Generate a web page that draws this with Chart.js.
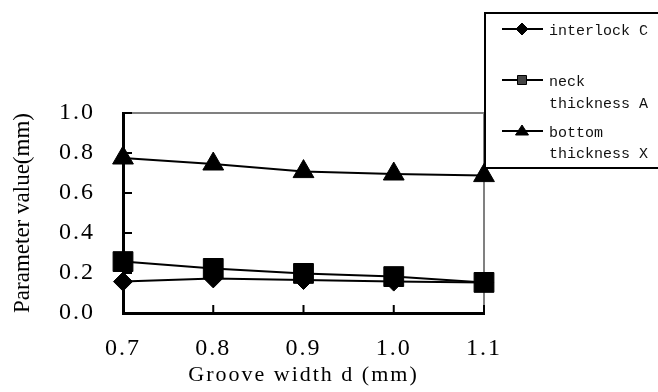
<!DOCTYPE html>
<html>
<head>
<meta charset="utf-8">
<script src="https://cdn.jsdelivr.net/npm/chart.js@4/dist/chart.umd.min.js"></script>
<style>
  html, body { margin: 0; padding: 0; background: #fff; }
  #wrap { width: 658px; height: 392px; position: relative; }
</style>
</head>
<body>
<div id="wrap"><canvas id="chart" width="658" height="392"></canvas></div>
<script>
// data
const grooveWidths = ['0.7', '0.8', '0.9', '1.0', '1.1'];
const interlockC = [0.157, 0.173, 0.165, 0.157, 0.152];
const neckThicknessA = [0.257, 0.223, 0.198, 0.182, 0.153];
const bottomThicknessX = [0.775, 0.745, 0.707, 0.695, 0.687];
const yTickValues = [0, 0.2, 0.4, 0.6, 0.8, 1.0];

const seriesNames = ['interlock C', 'neck thickness A', 'bottom thickness X'];
const legendLines = [['interlock C'], ['neck', 'thickness A'], ['bottom', 'thickness X']];
const pointStyles = ['rectRot', 'rect', 'triangle'];

// draws the inward tick marks, the grey frame and the boxed legend
const framePlugin = {
    id: 'frame',
    beforeDraw(chart) {
        chart.ctx.letterSpacing = '2px';
    },
    afterUpdate(chart) {
        const y = chart.scales.y;
        if (!y._noSpacing) {
            const orig = y.drawTitle.bind(y);
            y.drawTitle = function () {
                const c = this.ctx;
                c.save();
                c.letterSpacing = '0px';
                orig();
                c.restore();
            };
            y._noSpacing = true;
        }
    },
    beforeDatasetsDraw(chart) {
        const ctx = chart.ctx;
        ctx.letterSpacing = '0px';
        const { left, right, top, bottom } = chart.chartArea;
        const x = chart.scales.x, y = chart.scales.y;

        ctx.save();
        // grey top and right edges
        ctx.strokeStyle = '#808080';
        ctx.lineWidth = 2;
        ctx.beginPath();
        ctx.moveTo(left, top);
        ctx.lineTo(right, top);
        ctx.lineTo(right, bottom);
        ctx.stroke();

        // inward ticks
        ctx.strokeStyle = '#000';
        ctx.lineWidth = 2;
        ctx.beginPath();
        yTickValues.forEach(v => {
            if (v === 0) return;
            const py = y.getPixelForValue(v);
            ctx.moveTo(left, py);
            ctx.lineTo(left + 9, py);
        });
        grooveWidths.forEach((lab, i) => {
            if (i === 0) return;
            const px = x.getPixelForValue(i);
            ctx.moveTo(px, bottom);
            ctx.lineTo(px, bottom - 8);
        });
        ctx.stroke();
        ctx.restore();
    },
    afterDraw(chart) {
        const ctx = chart.ctx;
        const { right } = chart.chartArea;
        const w = chart.width;
        ctx.save();
        ctx.letterSpacing = '0px';

        // legend box, open on the right (runs off the canvas)
        ctx.fillStyle = '#fff';
        ctx.fillRect(right + 1, 13, w - right, 155);
        ctx.strokeStyle = '#000';
        ctx.lineWidth = 2;
        ctx.beginPath();
        ctx.moveTo(w + 2, 13);
        ctx.lineTo(right + 1, 13);
        ctx.lineTo(right + 1, 168);
        ctx.lineTo(w + 2, 168);
        ctx.stroke();

        const lineY = [29, 80, 131];
        const textY = [[35], [86, 108], [137, 158]];
        const x0 = right + 18, x1 = right + 59, xm = right + 38, xt = right + 65;
        legendLines.forEach((lines, i) => {
            ctx.strokeStyle = '#000';
            ctx.lineWidth = 2;
            ctx.beginPath();
            ctx.moveTo(x0, lineY[i]);
            ctx.lineTo(x1, lineY[i]);
            ctx.stroke();
            drawMarker(ctx, pointStyles[i], xm, lineY[i], i === 1 ? '#444' : '#000');
            ctx.fillStyle = '#111';
            ctx.font = '15px "Liberation Mono", monospace';
            ctx.textBaseline = 'alphabetic';
            ctx.textAlign = 'left';
            lines.forEach((t, j) => ctx.fillText(t, xt, textY[i][j]));
        });
        ctx.restore();
    }
};

function drawMarker(ctx, style, x, y, fill) {
    ctx.fillStyle = fill;
    ctx.strokeStyle = '#000';
    ctx.lineWidth = 1;
    ctx.beginPath();
    if (style === 'rectRot') {
        ctx.moveTo(x, y - 6); ctx.lineTo(x + 6, y); ctx.lineTo(x, y + 6); ctx.lineTo(x - 6, y);
    } else if (style === 'rect') {
        ctx.rect(x - 4.5, y - 4.5, 9, 9);
    } else {
        ctx.moveTo(x, y - 6); ctx.lineTo(x + 6.5, y + 4); ctx.lineTo(x - 6.5, y + 4);
    }
    ctx.closePath();
    ctx.fill();
    ctx.stroke();
}

const serif = '"Liberation Serif", "Times New Roman", serif';
const seriesData = [interlockC, neckThicknessA, bottomThicknessX];
const radii = [9.5, 14, 12];

new Chart(document.getElementById('chart'), {
    type: 'line',
    data: {
        labels: grooveWidths,
        datasets: seriesData.map((d, i) => ({
            label: seriesNames[i],
            data: d,
            borderColor: '#000',
            borderWidth: 2,
            backgroundColor: '#000',
            pointBackgroundColor: '#000',
            pointBorderColor: '#000',
            pointBorderWidth: 1,
            pointStyle: pointStyles[i],
            pointRadius: radii[i],
            tension: 0,
            clip: false
        }))
    },
    options: {
        responsive: false,
        animation: false,
        layout: { padding: { left: 0, right: 174, top: 113, bottom: 0 } },
        plugins: { legend: { display: false }, tooltip: { enabled: false } },
        scales: {
            x: {
                type: 'category',
                offset: false,
                grid: { display: false, drawTicks: false },
                border: { display: true, color: '#000', width: 3 },
                ticks: {
                    color: '#000',
                    padding: 21,
                    maxRotation: 0,
                    font: { family: serif, size: 24 }
                },
                title: {
                    display: true,
                    text: 'Groove width d (mm)',
                    color: '#000',
                    font: { family: serif, size: 22 },
                    padding: { top: 0, bottom: 4 }
                },
                afterFit(scale) { scale.height = 79; }
            },
            y: {
                min: 0,
                max: 1,
                grid: { display: false, drawTicks: false },
                border: { display: true, color: '#000', width: 3 },
                afterBuildTicks(scale) { scale.ticks = yTickValues.map(v => ({ value: v })); },
                ticks: {
                    color: '#000',
                    padding: 28,
                    font: { family: serif, size: 24 },
                    callback: v => v.toFixed(1)
                },
                title: {
                    display: true,
                    text: 'Parameter value(mm)',
                    color: '#000',
                    font: { family: serif, size: 23 },
                    padding: { top: 9, bottom: 0 }
                },
                afterFit(scale) { scale.width = 123; }
            }
        }
    },
    plugins: [framePlugin]
});
</script>
</body>
</html>
